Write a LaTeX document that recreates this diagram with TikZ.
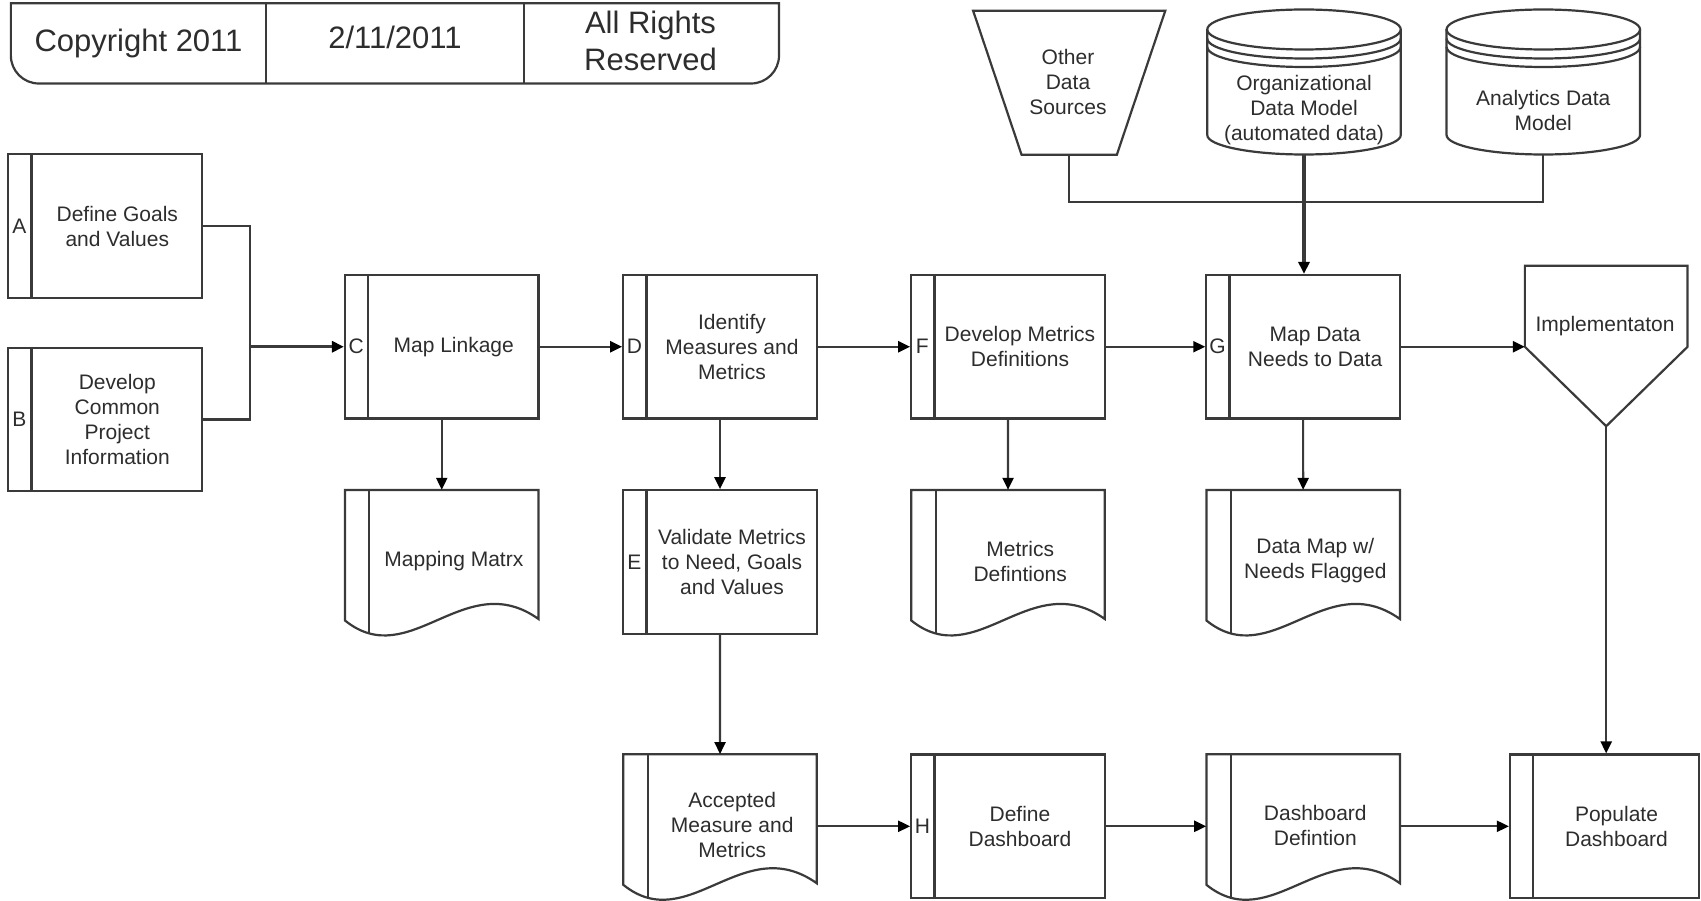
\documentclass[tikz,border=0pt]{standalone}
\usepackage{fontspec}
\setmainfont{Liberation Sans}
\usetikzlibrary{arrows.meta,calc}
\definecolor{lc}{RGB}{58,58,58}
\definecolor{tc}{RGB}{45,45,45}
\newcommand\ProcBox[6]{%
  \node[procn, minimum width=#4] (#1) at (#2,#3) {};
  \draw[shp] ([xshift=24.3pt]#1.north west) -- ([xshift=24.3pt]#1.south west);
  \node[txt] (#1t) at ([xshift=12pt]#1.center) {#6};
  \node[txt] (#1l) at ([xshift=12.2pt]#1.west) {#5};
}
\newcommand\DocBox[4]{%
  \node[docn] (#1) at (#2+96.75,#3+72) {};
  \draw[shp, fill=white] (#2,#3+130.5) -- (#2,#3) -- (#2+193.5,#3) -- (#2+193.5,#3+129)
     .. controls (#2+119.6,#3+76.3) and (#2+65,#3+183) .. (#2,#3+130.5) -- cycle;
  \draw[shp] (#2+24.3,#3) -- (#2+24.3,#3+143.5);
  \node[txt] (#1t) at (#2+108.9,#3+71) {#4};
}
\newcommand\CylBox[4]{%
  \node[inner sep=0pt, minimum width=193.5pt, minimum height=145pt] (#1) at (#2,82.5) {};
  \draw[shp, fill=white] (#2-96.75,29.5) -- (#2-96.75,135)
     arc[start angle=180, end angle=360, x radius=96.75pt, y radius=19.5pt] -- (#2+96.75,29.5);
  \draw[shp] (#2,29.5) ellipse [x radius=96.75pt, y radius=20pt];
  \draw[shp] (#2-96.75,38.5) arc[start angle=180, end angle=360, x radius=96.75pt, y radius=20pt];
  \draw[shp] (#2-96.75,47) arc[start angle=180, end angle=360, x radius=96.75pt, y radius=20pt];
  \node[txt] (#1t) at (#2,#3) {#4};
}
\begin{document}
\begin{tikzpicture}[x=1pt, y=-1pt, line join=miter,
  shp/.style={draw=lc, line width=2.2pt},
  procn/.style={shp, minimum height=143.5pt, inner sep=0pt},
  docn/.style={inner sep=0pt, minimum width=193.5pt, minimum height=144pt},
  txt/.style={font=\fontsize{21}{25}\selectfont, align=center, text=tc, inner sep=0pt},
  htxt/.style={font=\fontsize{31}{37.5}\selectfont, align=center, text=tc, inner sep=0pt},
  conn/.style={draw=lc, line width=2.2pt},
  arr/.style={conn, -{Triangle[length=12pt,width=11pt,color=black]}},
  tarr/.style={arr, line width=3.3pt}]
\useasboundingbox (0,0) rectangle (1701,901);

% header
\draw[shp] (10.85,3.3) -- (779,3.3) -- (779,55.5) arc[start angle=0, end angle=-90, radius=28pt]
  -- (38.85,83.5) arc[start angle=270, end angle=180, radius=28pt] -- cycle;
\draw[shp] (266.3,3.3) -- (266.3,83.5);
\draw[shp] (523.7,3.3) -- (523.7,83.5);
\node[htxt] (h1) at (138.5,43) {Copyright 2011};
\node[htxt] (h2) at (395,37) {2/11/2011};
\node[htxt] (h3) at (650.5,41) {All Rights\\Reserved};

% data sources
\node[inner sep=0pt, minimum width=191.7pt, minimum height=143.5pt] (ODS) at (1069.2,82.75) {};
\draw[shp] (ODS.north west) -- (ODS.north east) -- ([xshift=-48.4pt]ODS.south east)
  -- ([xshift=48.4pt]ODS.south west) -- cycle;
\node[txt] (ODSt) at (1068,81.5) {Other\\Data\\Sources};
\CylBox{ORG}{1304}{110}{Organizational\\Data Model\\(automated data)}
\CylBox{ADM}{1543.3}{110}{Analytics Data\\Model}

% row 1
\ProcBox{A}{105.3}{226}{194pt}{A}{Define Goals\\and Values}
\ProcBox{B}{105.3}{419.4}{194pt}{B}{Develop\\Common\\Project\\Information}
\ProcBox{C}{441.75}{346.75}{193.5pt}{C}{Map Linkage}
\ProcBox{D}{720}{346.75}{193.5pt}{D}{Identify\\Measures and\\Metrics}
\ProcBox{F}{1008}{346.75}{193.5pt}{F}{Develop Metrics\\Definitions}
\ProcBox{G}{1303.1}{346.75}{193.5pt}{G}{Map Data\\Needs to Data}
\node[inner sep=0pt, minimum width=162.3pt, minimum height=160pt] (IMP) at (1606.2,346) {};
\draw[shp] (IMP.north west) -- (IMP.north east) -- ([yshift=-81pt]IMP.north east)
  -- (IMP.south) -- ([yshift=-81pt]IMP.north west) -- cycle;
\node[txt] (IMPt) at (1605,326) {Implementaton};

% row 2
\DocBox{MAP}{345}{490}{Mapping Matrx}
\ProcBox{E}{720}{562}{193.5pt}{E}{Validate Metrics\\to Need, Goals\\and Values}
\DocBox{MD}{911.3}{490}{Metrics\\Defintions}
\DocBox{DM}{1206.4}{490}{Data Map w/\\Needs Flagged}

% row 3
\DocBox{ACC}{623.3}{754.3}{Accepted\\Measure and\\Metrics}
\ProcBox{H}{1008}{826.3}{193.5pt}{H}{Define\\Dashboard}
\DocBox{DD}{1206.4}{754.3}{Dashboard\\Defintion}
\ProcBox{POP}{1604.5}{826.3}{189pt}{}{Populate\\Dashboard}

% connectors
\coordinate (J) at (250,346.75);
\draw[conn] (A.east) -| (J) |- (B.east);
\draw[tarr] (J) -- (C.west);
\draw[arr] (C.east) -- (D.west);
\draw[arr] (D.east) -- (F.west);
\draw[arr] (F.east) -- (G.west);
\draw[arr] (G.east) -- (G.east -| IMP.west);
\draw[arr] (C.south) -- (MAP.north);
\draw[arr] (D.south) -- (E.north);
\draw[arr] (F.south) -- (MD.north);
\draw[arr] (G.south) -- (DM.north);
\draw[arr] (E.south) -- (ACC.north);
\draw[arr] (IMP.south) -- (IMP.south |- POP.north);
\draw[arr] (ACC.east) -- (H.west);
\draw[arr] (H.east) -- (DD.west);
\draw[arr] (DD.east) -- (POP.west);
\draw[conn] (ODS.south) -- ++(0,47.2) -| (ADM.south);
\draw[tarr] (ORG.south) -- (ORG.south |- G.north);
\end{tikzpicture}
\end{document}
